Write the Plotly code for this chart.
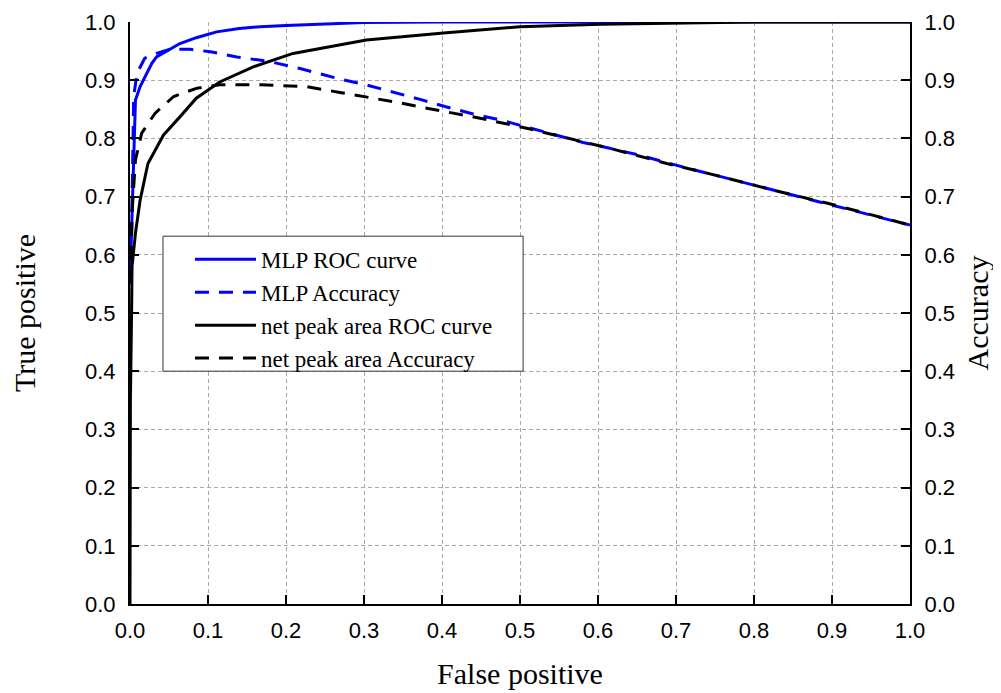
import plotly.graph_objects as go

# ---- data ----
mlp_roc_x = [0, 0.0026, 0.0047, 0.007, 0.013, 0.028, 0.034, 0.054, 0.064, 0.085, 0.111, 0.14, 0.167, 0.2, 0.244, 0.3, 0.4, 0.6, 1.0]
mlp_roc_y = [0.55, 0.683, 0.774, 0.866, 0.889, 0.929, 0.940, 0.955, 0.963, 0.973, 0.983, 0.989, 0.992, 0.994, 0.996, 0.999, 1.0, 1.0, 1.0]

mlp_acc_x = [0.001, 0.0047, 0.009, 0.019, 0.034, 0.051, 0.077, 0.103, 0.137, 0.179, 0.218, 0.269, 0.303, 0.337, 0.372, 0.406,
             0.44, 0.474, 0.509, 0.543, 0.581, 0.615, 0.654, 0.7, 0.8, 0.9, 1.0]
mlp_acc_y = [0.55, 0.872, 0.912, 0.938, 0.946, 0.953, 0.953, 0.949, 0.940, 0.932, 0.920, 0.902, 0.892, 0.880, 0.867, 0.854,
             0.842, 0.832, 0.819, 0.806, 0.793, 0.783, 0.771, 0.754, 0.72, 0.686, 0.651]

net_roc_x = [0, 0.0005, 0.002, 0.0026, 0.007, 0.011, 0.013, 0.023, 0.043, 0.064, 0.085, 0.115, 0.158, 0.209, 0.244, 0.303,
             0.402, 0.5, 0.603, 0.667, 0.72, 0.8, 1.0]
net_roc_y = [0.0, 0.35, 0.5, 0.58, 0.637, 0.677, 0.694, 0.757, 0.806, 0.837, 0.869, 0.897, 0.923, 0.946, 0.955, 0.969,
             0.981, 0.992, 0.996, 0.997, 0.999, 1.0, 1.0]

net_acc_x = [0.001, 0.0026, 0.007, 0.015, 0.032, 0.043, 0.056, 0.085, 0.115, 0.167, 0.226, 0.269, 0.306, 0.342, 0.376,
             0.41, 0.444, 0.479, 0.513, 0.615, 0.688, 0.756, 0.825, 0.902, 1.0]
net_acc_y = [0.55, 0.672, 0.763, 0.809, 0.843, 0.857, 0.872, 0.886, 0.892, 0.892, 0.889, 0.879, 0.871, 0.862, 0.853,
             0.845, 0.836, 0.826, 0.816, 0.783, 0.757, 0.735, 0.711, 0.686, 0.651]

tick_vals = [0.0, 0.1, 0.2, 0.3, 0.4, 0.5, 0.6, 0.7, 0.8, 0.9, 1.0]
tick_text = ["0.0", "0.1", "0.2", "0.3", "0.4", "0.5", "0.6", "0.7", "0.8", "0.9", "1.0"]

BLUE = "#0000ff"
BLACK = "#000000"
DASH = "14px,10px"

fig = go.Figure()
fig.add_trace(go.Scatter(x=mlp_roc_x, y=mlp_roc_y, mode="lines", name="MLP ROC curve",
                         line=dict(color=BLUE, width=3)))
fig.add_trace(go.Scatter(x=mlp_acc_x, y=mlp_acc_y, mode="lines", name="MLP Accuracy", yaxis="y2",
                         line=dict(color=BLUE, width=3, dash=DASH)))
fig.add_trace(go.Scatter(x=net_roc_x, y=net_roc_y, mode="lines", name="net peak area ROC curve",
                         line=dict(color=BLACK, width=3)))
fig.add_trace(go.Scatter(x=net_acc_x, y=net_acc_y, mode="lines", name="net peak area Accuracy", yaxis="y2",
                         line=dict(color=BLACK, width=3, dash=DASH)))

tickfont = dict(family="Liberation Sans, Arial, sans-serif", size=22, color="black")
titlefont = dict(family="Liberation Serif, Times New Roman, serif", size=30, color="black")

common = dict(range=[0, 1], tickvals=tick_vals, ticktext=tick_text, ticks="inside", ticklen=9, tickwidth=2,
              tickcolor="black", showline=True, linecolor="black", linewidth=2, tickfont=tickfont,
              zeroline=False, fixedrange=True, automargin=False)

GRID = dict(showgrid=True, gridcolor="#a8a8a8", gridwidth=1, griddash="4px,3px")

# the page body has an 8px default margin, so the figure is 8px smaller and margins shifted
fig.update_layout(
    width=993, height=685,
    margin=dict(l=122, r=91, t=14, b=89),
    paper_bgcolor="white", plot_bgcolor="white",
    xaxis=dict(**common, **GRID, ticklabelstandoff=6,
               title=dict(text="False positive", font=titlefont, standoff=21)),
    yaxis=dict(**common, **GRID, ticklabelstandoff=8,
               title=dict(text="True positive", font=titlefont, standoff=44)),
    yaxis2=dict(**common, overlaying="y", side="right", showgrid=False, ticklabelstandoff=8,
                title=dict(text="Accuracy", font=titlefont, standoff=13)),
    legend=dict(x=0.0769, y=0.629, xanchor="left", yanchor="top",
                bgcolor="rgba(0,0,0,0)", borderwidth=0,
                font=dict(family="Liberation Serif, Times New Roman, serif", size=23, color="black"),
                itemwidth=61, tracegroupgap=0),
    showlegend=True,
    shapes=[dict(type="rect", xref="paper", yref="paper", x0=0.0423, x1=0.504, y0=0.400, y1=0.632,
                 line=dict(color="#333333", width=1), fillcolor="white", layer="above")],
)

fig.write_html("out.html")
